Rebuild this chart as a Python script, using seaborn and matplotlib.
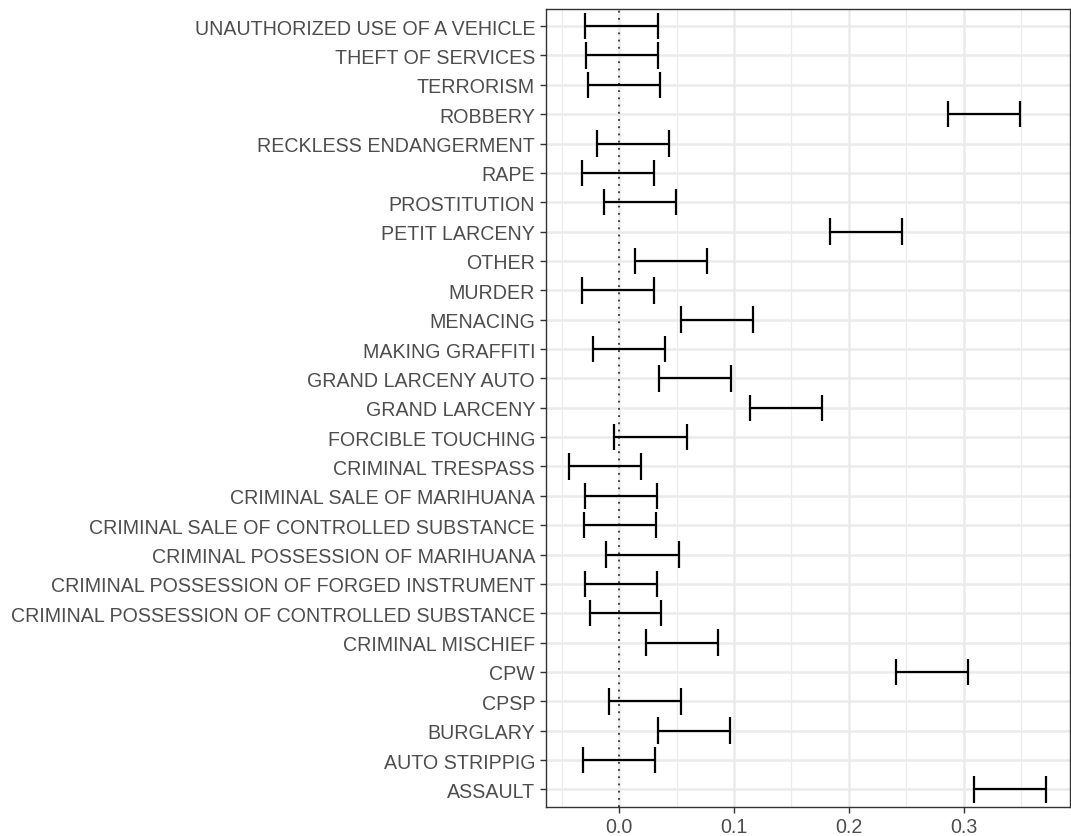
import numpy as np
import pandas as pd
import matplotlib
matplotlib.use("Agg")
import matplotlib.pyplot as plt
import seaborn as sns

categories = [
    "ASSAULT", "AUTO STRIPPIG", "BURGLARY", "CPSP", "CPW", "CRIMINAL MISCHIEF",
    "CRIMINAL POSSESSION OF CONTROLLED SUBSTANCE",
    "CRIMINAL POSSESSION OF FORGED INSTRUMENT",
    "CRIMINAL POSSESSION OF MARIHUANA",
    "CRIMINAL SALE OF CONTROLLED SUBSTANCE",
    "CRIMINAL SALE OF MARIHUANA", "CRIMINAL TRESPASS", "FORCIBLE TOUCHING",
    "GRAND LARCENY", "GRAND LARCENY AUTO", "MAKING GRAFFITI", "MENACING",
    "MURDER", "OTHER", "PETIT LARCENY", "PROSTITUTION", "RAPE",
    "RECKLESS ENDANGERMENT", "ROBBERY", "TERRORISM", "THEFT OF SERVICES",
    "UNAUTHORIZED USE OF A VEHICLE",
]
lower = [0.3093, -0.0313, 0.0334, -0.0090, 0.2409, 0.0236, -0.0257, -0.0296,
         -0.0113, -0.0307, -0.0296, -0.0436, -0.0045, 0.1137, 0.0346, -0.0230,
         0.0540, -0.0322, 0.0134, 0.1839, -0.0134, -0.0325, -0.0194, 0.2863,
         -0.0275, -0.0293, -0.0296]
upper = [0.3716, 0.0310, 0.0961, 0.0534, 0.3036, 0.0860, 0.0367, 0.0331,
         0.0516, 0.0319, 0.0331, 0.0191, 0.0588, 0.1764, 0.0973, 0.0397,
         0.1167, 0.0301, 0.0761, 0.2463, 0.0493, 0.0299, 0.0433, 0.3490,
         0.0352, 0.0334, 0.0334]
x_ticks = [0.0, 0.1, 0.2, 0.3]
x_tick_labels = ["0.0", "0.1", "0.2", "0.3"]

df = pd.DataFrame({"category": categories, "lower": lower, "upper": upper})
df["pos"] = np.arange(len(df))

sns.set_theme(style="white")
plt.rcParams["font.family"] = ["Liberation Sans", "DejaVu Sans"]

W, H = 1071, 837
top_px, bot_px = 9.5, 808.0
fig = plt.figure(figsize=(W / 100, H / 100), dpi=100)
ax = fig.add_axes([545.5 / W, 1 - bot_px / H, (1069.5 - 545.5) / W, (bot_px - top_px) / H])
ax.set_facecolor("white")

# limits (ggplot-like expansion)
lo_all, hi_all = df["lower"].min(), df["upper"].max()
rng = hi_all - lo_all
ax.set_xlim(lo_all - 0.05 * rng, hi_all + 0.05 * rng)
ax.set_ylim(-0.6, len(df) - 1 + 0.6)

# grid
ax.set_xticks(x_ticks)
ax.set_xticks([-0.05, 0.05, 0.15, 0.25, 0.35], minor=True)
ax.set_yticks(df["pos"])
ax.grid(which="major", axis="both", color="#EBEBEB", linewidth=1.8, zorder=0)
ax.grid(which="minor", axis="x", color="#EBEBEB", linewidth=0.9, zorder=0)
ax.set_axisbelow(True)

# reference line
ax.axvline(0, color="#333333", linestyle=(0, (1, 3)), linewidth=1.3, zorder=2)

# error bars
ax.hlines(df["pos"], df["lower"], df["upper"], color="black", linewidth=1.6, zorder=3)
ax.vlines(df["lower"], df["pos"] - 0.45, df["pos"] + 0.45, color="black", linewidth=1.6, zorder=3)
ax.vlines(df["upper"], df["pos"] - 0.45, df["pos"] + 0.45, color="black", linewidth=1.6, zorder=3)

ax.set_yticklabels(df["category"], fontsize=14.15, color="#4D4D4D")
ax.set_xticklabels(x_tick_labels, fontsize=14.15, color="#4D4D4D")
ax.tick_params(axis="both", which="major", length=4.5, width=1.0, color="#333333",
               left=True, bottom=True, pad=3)
ax.tick_params(axis="x", which="minor", length=0)

for s in ax.spines.values():
    s.set_visible(True)
    s.set_color("#333333")
    s.set_linewidth(1.0)

ax.set_xlabel("")
ax.set_ylabel("")
fig.savefig("out.png", dpi=100)
